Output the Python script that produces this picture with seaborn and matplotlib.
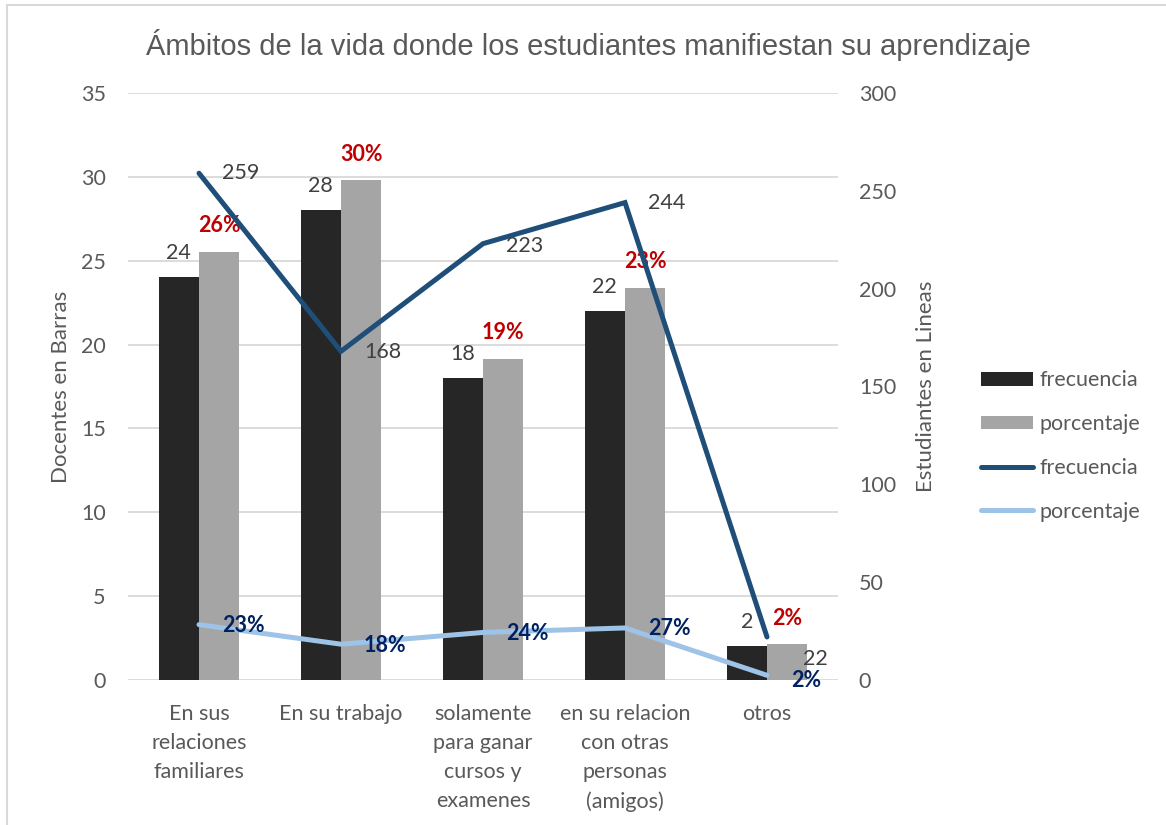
import numpy as np
import pandas as pd
import matplotlib
matplotlib.use("Agg")
import matplotlib.pyplot as plt
from matplotlib import font_manager
from matplotlib.patches import Patch, Rectangle
from matplotlib.lines import Line2D
import seaborn as sns

# ---------------- data ----------------
categories = ["En sus\nrelaciones\nfamiliares", "En su trabajo",
              "solamente\npara ganar\ncursos y\nexamenes",
              "en su relacion\ncon otras\npersonas\n(amigos)", "otros"]
docentes_frecuencia = [24, 28, 18, 22, 2]
docentes_porcentaje = [25.53, 29.79, 19.15, 23.40, 2.13]
docentes_pct_labels = ["26%", "30%", "19%", "23%", "2%"]
estudiantes_frecuencia = [259, 168, 223, 244, 22]
estudiantes_porcentaje = [28.3, 18.3, 24.3, 26.6, 2.4]
estudiantes_pct_labels = ["23%", "18%", "24%", "27%", "2%"]
series_names = ["frecuencia", "porcentaje"]

# ---------------- style ----------------
sns.set_theme(style="white")
avail = {f.name for f in font_manager.fontManager.ttflist}
main_font = "Lato" if "Lato" in avail else "DejaVu Sans"
title_font = "Liberation Sans Narrow" if "Liberation Sans Narrow" in avail else "Liberation Sans"
plt.rcParams["font.family"] = [main_font, "DejaVu Sans"]

TXT = "#595959"
LBL = "#404040"
FS = 15.5

fig = plt.figure(figsize=(11.66, 8.25), dpi=100)
ax = fig.add_axes([128/1166, 1-680/825, 710/1166, 587/825])

df = pd.DataFrame({
    "categoria": categories * 2,
    "serie": [series_names[0]] * 5 + [series_names[1]] * 5,
    "valor": docentes_frecuencia + docentes_porcentaje,
})
sns.barplot(data=df, x="categoria", y="valor", hue="serie", order=categories,
            hue_order=series_names, palette=["#262626", "#A5A5A5"],
            width=0.57, gap=0, linewidth=0, saturation=1, ax=ax, legend=False, zorder=2)

ax.set_ylim(0, 35)
ax.set_yticks(range(0, 36, 5))
ax.set_xlim(-0.5, 4.5)
ax.grid(axis="y", color="#D9D9D9", linewidth=1.3, zorder=0)
ax.set_axisbelow(True)
for s in ax.spines.values():
    s.set_visible(False)
ax.tick_params(axis="both", length=0, labelsize=FS, labelcolor=TXT)
ax.tick_params(axis="y", pad=16)
ax.tick_params(axis="x", pad=17)
for t in ax.get_xticklabels():
    t.set_linespacing(1.58)
    t.set_verticalalignment("top")
ax.set_xlabel("")
ax.set_ylabel("Docentes en Barras", fontsize=FS + 0.5, color=TXT, labelpad=7)

# bar labels
xs = np.arange(len(categories))
for i, cont in enumerate(ax.containers):
    for j, rect in enumerate(cont):
        cx = rect.get_x() + rect.get_width() / 2
        top = rect.get_height()
        if i == 0:
            ax.annotate(str(docentes_frecuencia[j]), (cx, top), xytext=(0, 24),
                        textcoords="offset pixels", ha="center", va="center",
                        fontsize=FS, color=LBL, zorder=5)
        else:
            ax.annotate(docentes_pct_labels[j], (cx, top), xytext=(0, 26),
                        textcoords="offset pixels", ha="center", va="center",
                        fontsize=FS, color="#C00000", fontweight="bold", zorder=5)

# ---------------- lines ----------------
ax2 = ax.twinx()
ldf = pd.DataFrame({"x": xs, "freq": estudiantes_frecuencia, "pct": estudiantes_porcentaje})
sns.lineplot(data=ldf, x="x", y="freq", color="#1F4E79", linewidth=3.6, ax=ax2,
             solid_capstyle="round", solid_joinstyle="miter", zorder=3)
sns.lineplot(data=ldf, x="x", y="pct", color="#9DC3E6", linewidth=3.6, ax=ax2,
             solid_capstyle="round", zorder=3)
ax2.set_ylim(0, 300)
ax2.set_yticks(range(0, 301, 50))
ax2.set_xlim(-0.5, 4.5)
for s in ax2.spines.values():
    s.set_visible(False)
ax2.tick_params(axis="y", length=0, labelsize=FS, labelcolor=TXT, pad=15)
ax2.set_xlabel("")
ax2.set_ylabel("Estudiantes en Lineas", fontsize=FS + 0.5, color=TXT, labelpad=14)

freq_offsets = [(23, 0), (23, -1), (23, -2), (23, 0), (36, -22)]
pct_offsets = [(23, -1), (23, -1), (23, -1), (23, -1), (24, -5)]
for j in range(len(xs)):
    ax2.annotate(str(estudiantes_frecuencia[j]), (xs[j], estudiantes_frecuencia[j]),
                 xytext=freq_offsets[j], textcoords="offset pixels",
                 ha="left", va="center", fontsize=FS, color=LBL, zorder=6)
    ax2.annotate(estudiantes_pct_labels[j], (xs[j], estudiantes_porcentaje[j]),
                 xytext=pct_offsets[j], textcoords="offset pixels",
                 ha="left", va="center", fontsize=FS, color="#002060",
                 fontweight="bold", zorder=6)

# ---------------- legend ----------------
handles = [Patch(facecolor="#262626", edgecolor="none"),
           Patch(facecolor="#A5A5A5", edgecolor="none"),
           Line2D([], [], color="#1F4E79", linewidth=3.6, solid_capstyle="round"),
           Line2D([], [], color="#9DC3E6", linewidth=3.6, solid_capstyle="round")]
labels = ["frecuencia", "porcentaje", "frecuencia", "porcentaje"]
leg = fig.legend(handles, labels, loc="center left", bbox_to_anchor=(981/1166, 1-446/825),
                 frameon=False, fontsize=FS, handlelength=2.4, handleheight=0.6,
                 handletextpad=0.3, labelspacing=1.1, borderpad=0, borderaxespad=0)
for t in leg.get_texts():
    t.set_color(TXT)

# ---------------- title & frame ----------------
fig.text(588/1166, 1-45/825, "Ámbitos de la vida donde los estudiantes manifiestan su aprendizaje",
         ha="center", va="center", fontsize=21, color=TXT, family=[title_font, "DejaVu Sans"])
fig.patches.append(Rectangle((7/1166, -0.1), 1.2, 1 - 5/825 + 0.1, transform=fig.transFigure,
                             fill=False, edgecolor="#D9D9D9", linewidth=1.5))

fig.savefig("out.png", dpi=100)
